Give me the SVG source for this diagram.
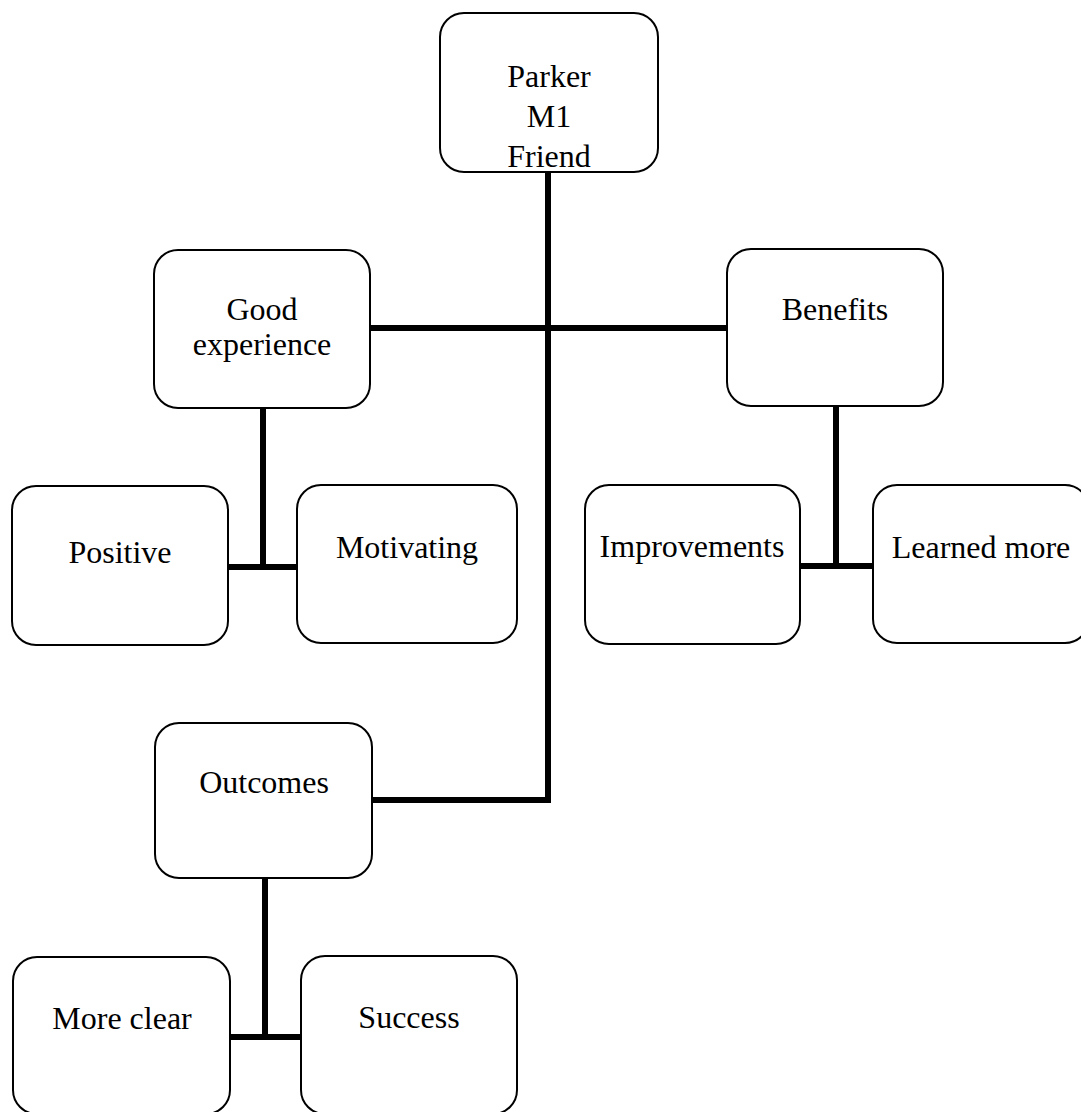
<svg xmlns="http://www.w3.org/2000/svg" width="1081" height="1112" viewBox="0 0 1081 1112">
<style>
.box{fill:#fff;stroke:#000;stroke-width:2}
.t{font-family:"Liberation Serif","Times New Roman",serif;font-size:32px;fill:#000;text-anchor:middle}
.c{fill:none;stroke:#000;stroke-width:6}
</style>
<rect width="1081" height="1112" fill="#fff"/>
<g id="connectors">
<path class="c" d="M548,172 V800 H372"/>
<path class="c" d="M370,328 H727"/>
<path class="c" d="M263,408 V567 M228,567 H297"/>
<path class="c" d="M836,406 V566 M800,566 H873"/>
<path class="c" d="M265,878 V1037 M230,1037 H301"/>
</g>
<g id="n-parker"><rect class="box" x="440" y="13" width="218" height="159" rx="24"/>
<text class="t" x="549" y="87">Parker</text><text class="t" x="549" y="127">M1</text><text class="t" x="549" y="167">Friend</text></g>
<g id="n-good"><rect class="box" x="154" y="250" width="216" height="158" rx="24"/>
<text class="t" x="262" y="320">Good</text><text class="t" x="262" y="355">experience</text></g>
<g id="n-benefits"><rect class="box" x="727" y="249" width="216" height="157" rx="24"/>
<text class="t" x="835" y="320">Benefits</text></g>
<g id="n-positive"><rect class="box" x="12" y="486" width="216" height="159" rx="24"/>
<text class="t" x="120" y="563">Positive</text></g>
<g id="n-motivating"><rect class="box" x="297" y="485" width="220" height="158" rx="24"/>
<text class="t" x="407" y="558">Motivating</text></g>
<g id="n-improvements"><rect class="box" x="585" y="485" width="215" height="159" rx="24"/>
<text class="t" x="692" y="557">Improvements</text></g>
<g id="n-learned"><rect class="box" x="873" y="485" width="216" height="158" rx="24"/>
<text class="t" x="981" y="558">Learned more</text></g>
<g id="n-outcomes"><rect class="box" x="155" y="723" width="217" height="155" rx="24"/>
<text class="t" x="264" y="793">Outcomes</text></g>
<g id="n-moreclear"><rect class="box" x="13" y="957" width="217" height="157" rx="24"/>
<text class="t" x="122" y="1029">More clear</text></g>
<g id="n-success"><rect class="box" x="301" y="956" width="216" height="158" rx="24"/>
<text class="t" x="409" y="1028">Success</text></g>
</svg>
